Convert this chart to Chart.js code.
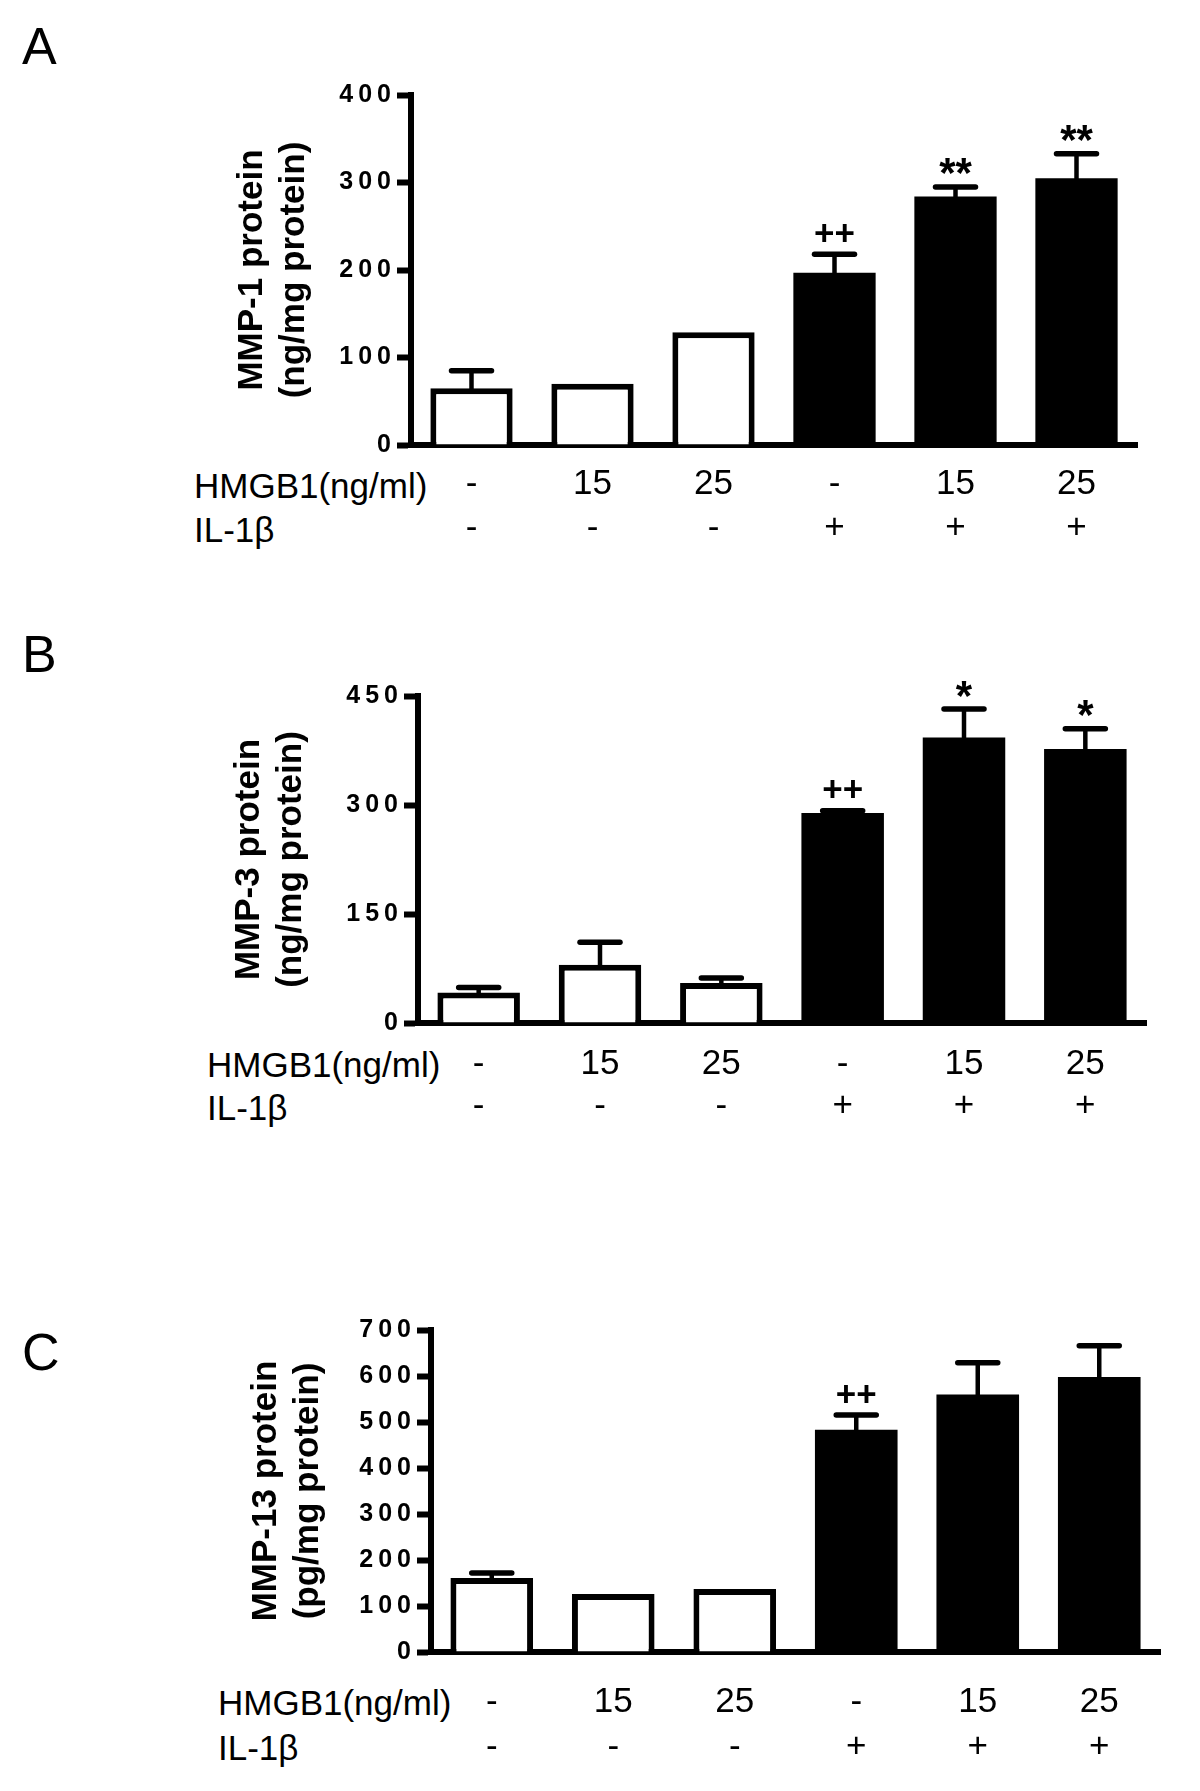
<!DOCTYPE html>
<html><head><meta charset="utf-8">
<script src="https://cdn.jsdelivr.net/npm/chart.js@4.4.0/dist/chart.umd.min.js"></script>
<style>
html,body{margin:0;padding:0;background:#fff;}
body{width:1200px;height:1791px;position:relative;overflow:hidden;font-family:"Liberation Sans",Arial,sans-serif;}
canvas{position:absolute;left:0;}
.txt{position:absolute;white-space:nowrap;color:#000;font-family:"Liberation Sans",Arial,sans-serif;}
.letter{font-size:52px;line-height:52px;}
.hdr{font-size:35px;line-height:35px;}
</style></head><body>
<div class="txt letter" style="left:22px;top:20px">A</div>
<div class="txt letter" style="left:22px;top:628px">B</div>
<div class="txt letter" style="left:22px;top:1326px">C</div>
<div class="txt hdr" style="left:194px;top:468px">HMGB1(ng/ml)</div>
<div class="txt hdr" style="left:194px;top:512px">IL-1β</div>
<div class="txt hdr" style="left:207px;top:1047px">HMGB1(ng/ml)</div>
<div class="txt hdr" style="left:207px;top:1090px">IL-1β</div>
<div class="txt hdr" style="left:218px;top:1685px">HMGB1(ng/ml)</div>
<div class="txt hdr" style="left:218px;top:1730px">IL-1β</div>
<canvas id="cA" width="1200" height="600" style="top:0px;width:1200px;height:600px"></canvas>
<canvas id="cB" width="1200" height="560" style="top:600px;width:1200px;height:560px"></canvas>
<canvas id="cC" width="1200" height="631" style="top:1160px;width:1200px;height:631px"></canvas>
<script>
// ---- data ----
const hmgb1Labels = ['-', '15', '25', '-', '15', '25'];
const il1bLabels  = ['-', '-', '-', '+', '+', '+'];

const mmp1Mean = [65, 70, 129, 197, 284, 305];
const mmp1Sem  = [20, 0, 0, 21, 11, 28];
const mmp1Sig  = ['', '', '', '++', '**', '**'];
const mmp1Ticks = [0, 100, 200, 300, 400];
const mmp1Title = ['MMP-1 protein', '(ng/mg protein)'];

const mmp3Mean = [42, 80, 55, 289, 393, 377];
const mmp3Sem  = [7, 31, 7, 3, 39, 28];
const mmp3Sig  = ['', '', '', '++', '*', '*'];
const mmp3Ticks = [0, 150, 300, 450];
const mmp3Title = ['MMP-3 protein', '(ng/mg protein)'];

const mmp13Mean = [161, 126, 137, 483, 560, 598];
const mmp13Sem  = [11, 0, 0, 32, 69, 68];
const mmp13Sig  = ['', '', '', '++', '', ''];
const mmp13Ticks = [0, 100, 200, 300, 400, 500, 600, 700];
const mmp13Title = ['MMP-13 protein', '(pg/mg protein)'];

const FONT = '"Liberation Sans", Arial, sans-serif';

const letterSpacingPlugin = {
  id: 'yLetterSpacing',
  beforeDraw(chart) {
    const ys = chart.scales.y;
    if (ys && !ys._lsPatched) {
      const orig = ys.drawLabels;
      ys.drawLabels = function (ca) {
        const c = this.ctx; c.save(); c.letterSpacing = '5px'; orig.call(this, ca); c.restore();
      };
      ys._lsPatched = true;
    }
  }
};

const errorPlugin = {
  id: 'errSig',
  afterDatasetsDraw(chart, args, opts) {
    const meta = chart.getDatasetMeta(0);
    const y = chart.scales.y;
    const ctx = chart.ctx;
    const vals = chart.data.datasets[0].data;
    meta.data.forEach((bar, i) => {
      const m = vals[i], s = opts.sem[i];
      let topPx = y.getPixelForValue(m);
      if (s > 0) {
        const ey = y.getPixelForValue(m + s);
        ctx.save();
        ctx.strokeStyle = '#000';
        ctx.lineWidth = 4.5; ctx.lineCap = 'butt';
        ctx.beginPath(); ctx.moveTo(bar.x, bar.y + 2); ctx.lineTo(bar.x, ey); ctx.stroke();
        ctx.lineWidth = 5.5; ctx.lineCap = 'round';
        ctx.beginPath(); ctx.moveTo(bar.x - 20, ey); ctx.lineTo(bar.x + 20, ey); ctx.stroke();
        ctx.restore();
        topPx = ey - 2.5;
      }
      const sig = opts.sig[i];
      if (sig) {
        ctx.save();
        const isStar = sig.indexOf('*') >= 0;
        ctx.font = 'bold ' + (isStar ? 42 : 35) + 'px ' + FONT;
        ctx.fillStyle = '#000';
        ctx.textAlign = 'center';
        ctx.textBaseline = 'alphabetic';
        const mt = ctx.measureText(sig);
        const bottom = topPx - 10;
        ctx.fillText(sig, bar.x, bottom - mt.actualBoundingBoxDescent);
        ctx.restore();
      }
    });
  }
};

function makeChart(id, mean, sem, sig, ticks, title, L) {
  const ctx = document.getElementById(id).getContext('2d');
  return new Chart(ctx, {
    type: 'bar',
    data: {
      labels: hmgb1Labels.map((h, i) => [h, il1bLabels[i]]),
      datasets: [{
        data: mean,
        backgroundColor: il1bLabels.map(v => v === '+' ? '#000' : '#fff'),
        borderColor: '#000',
        borderWidth: il1bLabels.map(v => v === '+' ? 0 : 6),
        borderSkipped: 'start',
        barPercentage: 0.68,
        categoryPercentage: 1.0
      }]
    },
    options: {
      responsive: false,
      animation: false,
      devicePixelRatio: 1,
      events: [],
      layout: { padding: { top: L.top, left: 0, right: 1200 - L.right, bottom: 0 } },
      plugins: {
        legend: { display: false },
        tooltip: { enabled: false },
        errSig: { sem: sem, sig: sig }
      },
      scales: {
        x: {
          type: 'category',
          offset: true,
          grid: { display: false, drawTicks: false },
          border: { display: true, color: '#000', width: 6 },
          ticks: {
            color: '#000', autoSkip: false, maxRotation: 0, minRotation: 0,
            padding: L.tickPad,
            font: { family: FONT, size: 35, lineHeight: L.lh }
          },
          afterFit(s) { s.height = L.h - L.bottom; }
        },
        y: {
          min: ticks[0], max: ticks[ticks.length - 1],
          afterBuildTicks(s) { s.ticks = ticks.map(v => ({ value: v })); },
          grid: { display: true, drawOnChartArea: false, drawTicks: true, tickLength: 14, tickWidth: 6, color: '#000' },
          border: { display: true, color: '#000', width: 6 },
          ticks: {
            color: '#000', padding: 1,
            font: { family: FONT, size: 25, weight: 'bold' }
          },
          title: {
            display: true, text: title, color: '#000',
            font: { family: FONT, size: 35, weight: 'bold', lineHeight: 1.2 },
            padding: { top: L.titlePad, bottom: 0 }
          },
          afterFit(s) { s.width = L.left; }
        }
      }
    },
    plugins: [letterSpacingPlugin, errorPlugin]
  });
}

makeChart('cA', mmp1Mean, mmp1Sem, mmp1Sig, mmp1Ticks, mmp1Title,
  { h: 600, top: 95, bottom: 445, left: 411, right: 1137, titlePad: 231, tickPad: 18, lh: 1.24 });
makeChart('cB', mmp3Mean, mmp3Sem, mmp3Sig, mmp3Ticks, mmp3Title,
  { h: 560, top: 96, bottom: 423, left: 418, right: 1146, titlePad: 228, tickPad: 19.5, lh: 1.22 });
makeChart('cC', mmp13Mean, mmp13Sem, mmp13Sig, mmp13Ticks, mmp13Title,
  { h: 631, top: 170, bottom: 492, left: 431, right: 1160, titlePad: 245, tickPad: 28.5, lh: 1.27 });
</script>
</body></html>
